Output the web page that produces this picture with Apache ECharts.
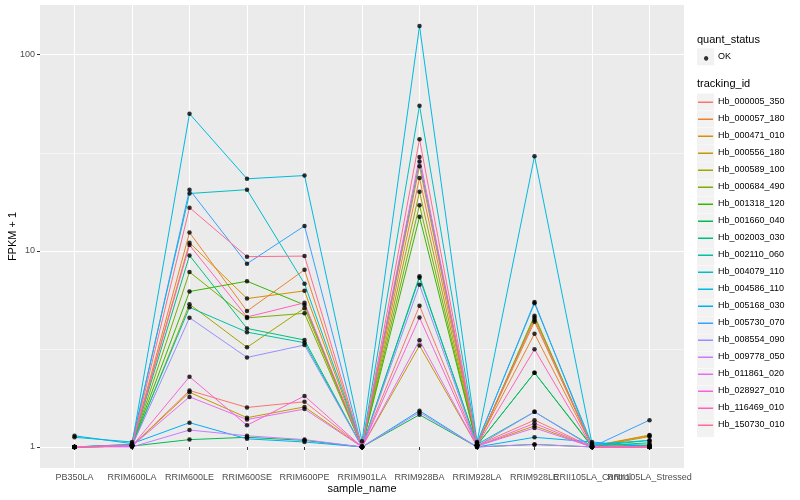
<!DOCTYPE html>
<html>
<head>
<meta charset="utf-8">
<script src="https://cdn.jsdelivr.net/npm/echarts@6/dist/echarts.min.js"></script>
<style>html,body{margin:0;padding:0;background:#fff}#c{width:800px;height:500px}</style>
</head>
<body>
<div id="c"></div>
<script>
// ---- data ----
const samples = ['PB350LA','RRIM600LA','RRIM600LE','RRIM600SE','RRIM600PE','RRIM901LA','RRIM928BA','RRIM928LA','RRIM928LE','RRII105LA_Control','RRII105LA_Stressed'];
const trackingIds = ['Hb_000005_350','Hb_000057_180','Hb_000471_010','Hb_000556_180','Hb_000589_100','Hb_000684_490','Hb_001318_120','Hb_001660_040','Hb_002003_030','Hb_002110_060','Hb_004079_110','Hb_004586_110','Hb_005168_030','Hb_005730_070','Hb_008554_090','Hb_009778_050','Hb_011861_020','Hb_028927_010','Hb_116469_010','Hb_150730_010'];
const geneColors = ['#F8766D','#EA8331','#D89000','#C09B00','#A3A500','#7CAE00','#39B600','#00BB4E','#00BF7D','#00C1A3','#00BFC4','#00BAE0','#00B0F6','#35A2FF','#9590FF','#C77CFF','#E76BF3','#FA62DB','#FF62BC','#FF6C91'];
// FPKM + 1 per sample (order of samples)
const hb_000005_350 = [1.00, 1.01, 1.94, 1.59, 1.70, 1.00, 5.25, 1.02, 1.37, 1.00, 1.00];
const hb_000057_180 = [1.00, 1.02, 12.4, 4.93, 8.00, 1.00, 23.5, 1.03, 3.78, 1.01, 1.14];
const hb_000471_010 = [1.00, 1.02, 11.0, 5.71, 6.25, 1.00, 27.0, 1.02, 4.35, 1.01, 1.15];
const hb_000556_180 = [1.00, 1.01, 1.90, 1.41, 1.60, 1.00, 3.29, 1.01, 1.28, 1.00, 1.13];
const hb_000589_100 = [1.00, 1.01, 5.34, 3.22, 5.10, 1.00, 20.0, 1.02, 4.57, 1.01, 1.02];
const hb_000684_490 = [1.00, 1.01, 7.80, 4.55, 4.80, 1.00, 17.1, 1.01, 4.67, 1.00, 1.02];
const hb_001318_120 = [1.00, 1.02, 6.20, 7.00, 5.30, 1.00, 14.9, 1.02, 2.39, 1.00, 1.01];
const hb_001660_040 = [1.00, 1.01, 1.09, 1.12, 1.08, 1.00, 1.46, 1.00, 1.03, 1.00, 1.00];
const hb_002003_030 = [1.00, 1.02, 9.47, 4.02, 3.51, 1.00, 7.42, 1.02, 2.39, 1.01, 1.05];
const hb_002110_060 = [1.00, 1.02, 5.15, 3.85, 3.40, 1.00, 7.30, 1.03, 1.51, 1.01, 1.08];
const hb_004079_110 = [1.12, 1.06, 19.6, 20.5, 6.80, 1.01, 55.0, 1.05, 5.40, 1.03, 1.08];
const hb_004586_110 = [1.00, 1.03, 50.0, 23.3, 24.2, 1.07, 140., 1.06, 30.4, 1.04, 1.02];
const hb_005168_030 = [1.14, 1.04, 1.33, 1.10, 1.06, 1.00, 1.53, 1.00, 1.12, 1.06, 1.00];
const hb_005730_070 = [1.00, 1.03, 20.5, 8.60, 13.4, 1.00, 28.5, 1.04, 5.48, 1.00, 1.37];
const hb_008554_090 = [1.00, 1.01, 4.56, 2.86, 3.31, 1.00, 6.71, 1.01, 1.51, 1.00, 1.00];
const hb_009778_050 = [1.00, 1.00, 1.22, 1.14, 1.09, 1.00, 1.50, 1.00, 1.03, 1.00, 1.00];
const hb_011861_020 = [1.00, 1.01, 1.80, 1.38, 1.56, 1.00, 3.50, 1.01, 1.25, 1.00, 1.00];
const hb_028927_010 = [1.00, 1.01, 2.28, 1.29, 1.82, 1.00, 4.57, 1.01, 1.32, 1.00, 1.00];
const hb_116469_010 = [1.00, 1.02, 10.7, 4.60, 5.43, 1.00, 30.1, 1.02, 3.15, 1.00, 1.00];
const hb_150730_010 = [1.00, 1.02, 16.6, 9.34, 9.40, 1.00, 37.1, 1.03, 4.45, 1.01, 1.00];
const yTicks = [1, 10, 100];

const geneValues = [hb_000005_350,hb_000057_180,hb_000471_010,hb_000556_180,hb_000589_100,hb_000684_490,hb_001318_120,hb_001660_040,hb_002003_030,hb_002110_060,hb_004079_110,hb_004586_110,hb_005168_030,hb_005730_070,hb_008554_090,hb_009778_050,hb_011861_020,hb_028927_010,hb_116469_010,hb_150730_010];

// ---- build ----
const FONT = '"Liberation Sans", Arial, Helvetica, sans-serif';
const lg = v => Math.log10(v);
const allVals = geneValues.flat().map(lg);
const dMin = Math.min(...allVals), dMax = Math.max(...allVals);
const pad = (dMax - dMin) * 0.05;
const xIdx = samples.map((s, i) => i + 1);
const xIdxEven = xIdx.filter(i => i % 2 === 0);
const xIdxOdd = xIdx.filter(i => i % 2 === 1);

const series = trackingIds.map((id, g) => ({
  name: id, type: 'line', showSymbol: false, symbol: 'none',
  data: geneValues[g].map((v, i) => [i + 1, lg(v)]),
  lineStyle: { color: geneColors[g], width: 1 },
  itemStyle: { color: geneColors[g] },
  emphasis: { disabled: true }, silent: true, z: 2
}));
const pts = [];
geneValues.forEach(arr => arr.forEach((v, i) => pts.push([i + 1, lg(v)])));
series.push({ name: 'OK', type: 'scatter', data: pts, symbol: 'circle', symbolSize: 4.5,
  itemStyle: { color: '#000' }, silent: true, z: 3 });

const keyTop0 = 93.3, keyStep = 17.2;
const graphics = [{ type: 'rect', shape: { x: 697, y: 48.3, width: 17.2, height: 17 }, style: { fill: '#F2F2F2' }, z: 0 }];
trackingIds.forEach((id, i) => graphics.push({ type: 'rect', shape: { x: 697, y: keyTop0 + i * keyStep + 0.2, width: 17.2, height: keyStep - 0.4 }, style: { fill: '#F2F2F2' }, z: 0 }));

const lineIcon = 'path://M0,0 L0.01,0 L0,0.01 Z M0,8.3 L15,8.3 L15,9.7 L0,9.7 Z M0,17 L0.01,17 L0,16.99 Z';
const dotIcon = 'path://M0,0 L0.01,0 L0,0.01 Z M9.7,8.5 A2.2,2.2 0 1 1 9.69,8.49 Z M0,17 L0.01,17 L0,16.99 Z M15,17 L14.99,17 L15,16.99 Z';

const labelStyle = { margin: 5, hideOverlap: false, interval: 0, showMinLabel: true, showMaxLabel: true,
  fontFamily: FONT, fontSize: 9, color: '#4D4D4D', formatter: v => samples[Math.round(v) - 1] || '' };

const option = {
  animation: false,
  backgroundColor: '#fff',
  title: [
    { text: 'quant_status', left: 697, top: 34.5, padding: 0, textStyle: { fontFamily: FONT, fontSize: 11, fontWeight: 'normal', color: '#000' } },
    { text: 'tracking_id', left: 697, top: 78.3, padding: 0, textStyle: { fontFamily: FONT, fontSize: 11, fontWeight: 'normal', color: '#000' } }
  ],
  legend: [
    { data: ['OK'], orient: 'vertical', left: 698, top: 48.3, padding: 0, itemGap: 0, itemWidth: 15, itemHeight: 17,
      icon: dotIcon, selectedMode: false, textStyle: { fontFamily: FONT, fontSize: 9, color: '#000' } },
    { data: trackingIds, orient: 'vertical', left: 698, top: keyTop0, padding: 0, itemGap: 0, itemWidth: 15, itemHeight: keyStep,
      icon: lineIcon, selectedMode: false, textStyle: { fontFamily: FONT, fontSize: 9, color: '#000' } }
  ],
  graphic: graphics,
  grid: { left: 40, right: 116, top: 5, bottom: 32, show: true, backgroundColor: '#EBEBEB', borderWidth: 0,
    containLabel: false, outerBoundsMode: 'none' },
  xAxis: [{
    type: 'value', min: 0.4, max: 11.6, minInterval: 1, maxInterval: 1,
    name: 'sample_name', nameLocation: 'middle', nameGap: 15, nameMoveOverlap: false,
    nameTextStyle: { fontFamily: FONT, fontSize: 11, color: '#000' },
    axisLine: { show: false },
    axisTick: { show: true, length: 3, customValues: xIdx, lineStyle: { color: '#333333', width: 1 } },
    axisLabel: Object.assign({ customValues: xIdxOdd }, labelStyle),
    splitLine: { show: true, lineStyle: { color: '#FFFFFF', width: 1.1 } },
    minorSplitLine: { show: false }
  }, {
    type: 'value', min: 0.4, max: 11.6, minInterval: 1, maxInterval: 1, position: 'bottom',
    axisLine: { show: false }, axisTick: { show: false }, splitLine: { show: false },
    axisLabel: Object.assign({ customValues: xIdxEven }, labelStyle)
  }],
  yAxis: {
    type: 'value', min: dMin - pad, max: dMax + pad, minInterval: 1, maxInterval: 1, splitNumber: 2,
    name: 'FPKM + 1', nameLocation: 'middle', nameGap: 21.5, nameRotate: 90, nameMoveOverlap: false,
    nameTextStyle: { fontFamily: FONT, fontSize: 11, color: '#000' },
    axisLine: { show: false },
    axisTick: { show: true, length: 3, customValues: yTicks.map(lg), lineStyle: { color: '#333333', width: 1 } },
    axisLabel: { customValues: yTicks.map(lg), margin: 5, fontFamily: FONT, fontSize: 9, color: '#4D4D4D',
      formatter: v => String(Math.round(Math.pow(10, v))) },
    splitLine: { show: true, lineStyle: { color: '#FFFFFF', width: 1.1 } },
    minorTick: { show: false, splitNumber: 2 },
    minorSplitLine: { show: true, lineStyle: { color: '#FFFFFF', width: 0.55 } }
  },
  series: series
};
const chart = echarts.init(document.getElementById('c'), null, { renderer: 'canvas' });
chart.setOption(option);
</script>
</body>
</html>
